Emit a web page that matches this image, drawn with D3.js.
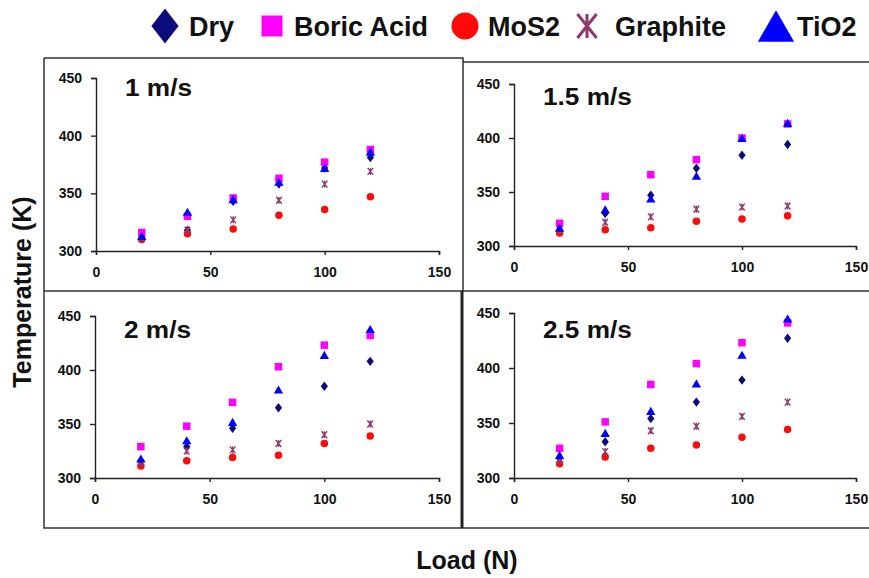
<!DOCTYPE html>
<html>
<head>
<meta charset="utf-8">
<script src="https://cdn.jsdelivr.net/npm/d3@7"></script>
<style>
  html, body { margin: 0; padding: 0; background: #fff; }
  svg { display: block; font-family: "Liberation Sans", Arial, sans-serif; }
</style>
</head>
<body>
<svg id="chart" width="869" height="578"></svg>
<script>
// ---- data ----
const loads = [20, 40, 60, 80, 100, 120];
const speeds = ["1 m/s", "1.5 m/s", "2 m/s", "2.5 m/s"];
const seriesNames = ["Dry", "Boric Acid", "MoS2", "Graphite", "TiO2"];
const xTicks = [0, 50, 100, 150];
const yTicks = [300, 350, 400, 450];
// one row per speed panel, values per load
const dry      = [[313, 318, 343, 358, 372, 381], [314, 330, 347, 372, 384, 394], [316, 329, 346, 365, 385, 408], [318, 333, 354, 369, 389, 427]];
const boric    = [[316, 330, 346, 363, 377, 388], [321, 346, 366, 380, 400, 413], [329, 348, 370, 403, 423, 432], [327, 351, 385, 404, 423, 441]];
const mos2     = [[310, 315, 319, 331, 336, 347], [312, 315, 317, 323, 325, 328], [311, 316, 319, 321, 332, 339], [313, 319, 327, 330, 337, 344]];
const graphite = [[311, 318, 327, 344, 358, 369], [315, 322, 327, 334, 336, 337], [314, 325, 326, 332, 340, 350], [316, 324, 343, 347, 356, 369]];
const tio2     = [[313, 334, 345, 360, 372, 386], [317, 334, 344, 365, 400, 414], [318, 335, 352, 382, 414, 438], [321, 341, 361, 386, 412, 445]];
const seriesValues = [dry, boric, mos2, graphite, tio2];

// ---- styles / layout ----
const colors = ["#0b0b7c", "#ff00ff", "#ff0a0a", "#8e3a6c", "#0000ff"];
const panels = [
  { x0: 96,  x1: 439, y0: 251, y1: 78,  tx: 125, ty: 96 },
  { x0: 514, x1: 856, y0: 246, y1: 84,  tx: 543, ty: 105 },
  { x0: 95,  x1: 439, y0: 478, y1: 316, tx: 124, ty: 338 },
  { x0: 514, x1: 856, y0: 478, y1: 313, tx: 543, ty: 338 }
];

const svg = d3.select("#chart");

// marker path generators (centered at 0,0)
function markerPath(kind, s) {
  const p = d3.path();
  if (kind === 0) { // diamond
    const w = s * 0.85, h = s * 1.1;
    p.moveTo(0, -h / 2); p.lineTo(w / 2, 0); p.lineTo(0, h / 2); p.lineTo(-w / 2, 0); p.closePath();
  } else if (kind === 1) { // square
    p.rect(-s / 2, -s / 2, s, s);
  } else if (kind === 2) { // circle
    p.arc(0, 0, s / 2, 0, Math.PI * 2);
  } else if (kind === 3) { // asterisk
    const a = s / 2;
    p.moveTo(0, -a); p.lineTo(0, a);
    p.moveTo(-a * 0.8, -a); p.lineTo(a * 0.8, a);
    p.moveTo(a * 0.8, -a); p.lineTo(-a * 0.8, a);
  } else { // triangle
    const w = s * 1.1, h = s * 0.95;
    p.moveTo(0, -h / 2); p.lineTo(w / 2, h / 2); p.lineTo(-w / 2, h / 2); p.closePath();
  }
  return p.toString();
}
function styleMarker(sel, k, sw) {
  if (k === 3) sel.attr("fill", "none").attr("stroke", colors[k]).attr("stroke-width", sw);
  else sel.attr("fill", colors[k]).attr("stroke", "none");
}

// ---- panel frames ----
const frame = svg.append("g").attr("stroke", "#333").attr("fill", "none");
frame.append("path").attr("stroke-width", 1.5)
  .attr("d", "M44,58 H463 V291 M463,62 H869 M44,58 V528 H869 M44,291 H869");
frame.append("path").attr("stroke-width", 3).attr("stroke", "#222").attr("d", "M462,291 V528");

// ---- panels ----
panels.forEach((P, i) => {
  const x = d3.scaleLinear().domain([0, 150]).range([P.x0, P.x1]);
  const y = d3.scaleLinear().domain([300, 450]).range([P.y0, P.y1]);
  const g = svg.append("g");

  const xAxis = g.append("g").attr("transform", `translate(0,${P.y0})`)
    .call(d3.axisBottom(x).tickValues(xTicks).tickSize(4).tickPadding(12));
  const yAxis = g.append("g").attr("transform", `translate(${P.x0},0)`)
    .call(d3.axisLeft(y).tickValues(yTicks).tickSize(5).tickPadding(9));
  [xAxis, yAxis].forEach(ax => {
    ax.select(".domain").attr("stroke", "#222").attr("stroke-width", 1.4);
    ax.selectAll(".tick line").attr("stroke", "#222").attr("stroke-width", 1.4);
    ax.selectAll("text").attr("font-size", 14).attr("font-weight", "bold")
      .attr("fill", "#111").attr("font-family", "'Liberation Sans', Arial, sans-serif");
  });

  const t = g.append("text").attr("x", P.tx).attr("y", P.ty)
    .attr("font-size", 23).attr("font-weight", "bold").attr("fill", "#111")
    .text(speeds[i]);
  const len = t.node().getComputedTextLength();
  t.attr("textLength", len * 1.14).attr("lengthAdjust", "spacingAndGlyphs");

  seriesValues.forEach((vals, k) => {
    const sz = [8.5, 7.5, 7.5, 7, 8.5][k];
    g.append("g").selectAll("path").data(vals[i]).join("path")
      .attr("transform", (d, j) => `translate(${x(loads[j])},${y(d)})`)
      .attr("d", markerPath(k, sz))
      .call(styleMarker, k, 1.4);
  });
});

// ---- legend ----
const legendPos = [
  { mx: 165, tx: 189, s: 32 },
  { mx: 272, tx: 294, s: 21 },
  { mx: 465, tx: 488, s: 27 },
  { mx: 587, tx: 615, s: 24 },
  { mx: 776, tx: 797, s: 33 }
];
const leg = svg.append("g");
seriesNames.forEach((name, k) => {
  const L = legendPos[k];
  leg.append("path").attr("transform", `translate(${L.mx},26)`)
    .attr("d", markerPath(k, L.s)).call(styleMarker, k, 3);
  leg.append("text").attr("x", L.tx).attr("y", 36)
    .attr("font-size", 27).attr("font-weight", "bold").attr("fill", "#111")
    .text(name);
});

// ---- axis titles ----
svg.append("text").attr("x", 467).attr("y", 569).attr("text-anchor", "middle")
  .attr("font-size", 25).attr("font-weight", "bold").attr("fill", "#111")
  .text("Load (N)");
svg.append("text").attr("transform", "translate(31,292) rotate(-90)")
  .attr("text-anchor", "middle")
  .attr("font-size", 25).attr("font-weight", "bold").attr("fill", "#111")
  .text("Temperature (K)");
</script>
</body>
</html>
